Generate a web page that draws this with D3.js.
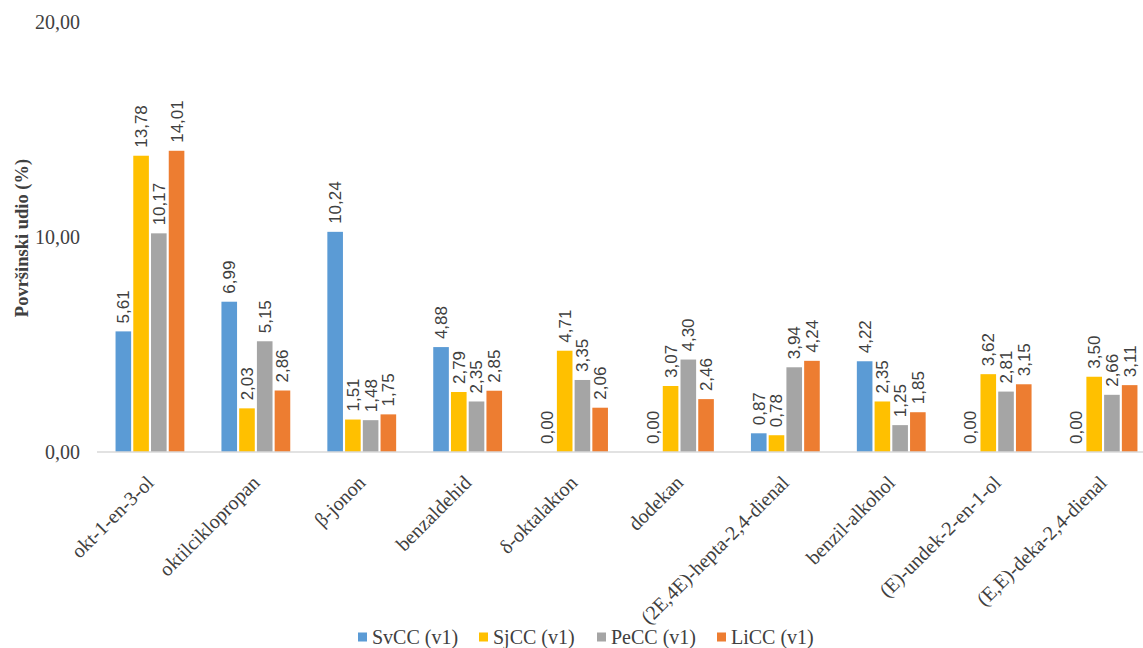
<!DOCTYPE html>
<html>
<head>
<meta charset="utf-8">
<script src="https://cdn.jsdelivr.net/npm/d3@7"></script>
<style>
  body { margin: 0; background: #fff; }
  text { fill: #404040; }
</style>
</head>
<body>
<div id="chart"></div>
<script>
// Data
const categories = ['okt-1-en-3-ol', 'oktilciklopropan', 'β-jonon', 'benzaldehid', 'δ-oktalakton',
  'dodekan', '(2E,4E)-hepta-2,4-dienal', 'benzil-alkohol', '(E)-undek-2-en-1-ol', '(E,E)-deka-2,4-dienal']
const seriesNames = ['SvCC (v1)', 'SjCC (v1)', 'PeCC (v1)', 'LiCC (v1)']
const svcc = [5.61, 6.99, 10.24, 4.88, 0.00, 0.00, 0.87, 4.22, 0.00, 0.00]
const sjcc = [13.78, 2.03, 1.51, 2.79, 4.71, 3.07, 0.78, 2.35, 3.62, 3.50]
const pecc = [10.17, 5.15, 1.48, 2.35, 3.35, 4.30, 3.94, 1.25, 2.81, 2.66]
const licc = [14.01, 2.86, 1.75, 2.85, 2.06, 2.46, 4.24, 1.85, 3.15, 3.11]
const yTicks = [0, 10, 20]
const colors = ['#5B9BD5', '#FFC000', '#A5A5A5', '#ED7D31']

const seriesValues = [svcc, sjcc, pecc, licc]
const rows = categories.map((c, i) => ({
  name: c,
  values: seriesNames.map((s, j) => ({ key: s, value: seriesValues[j][i] }))
}))

// Dimensions
const dimensions = { width: 1143, height: 648, left: 97, right: 1156, top: 22, bottom: 452 }

const svg = d3.select('#chart')
  .append('svg')
  .attr('width', dimensions.width)
  .attr('height', dimensions.height)

// Scales
const x = d3.scaleBand()
  .domain(categories)
  .range([dimensions.left, dimensions.right])
  .paddingInner(0.31)
  .paddingOuter(0.155)

const xInner = d3.scaleBand()
  .domain(seriesNames)
  .range([0, x.bandwidth()])
  .padding(0.12)

const y = d3.scaleLinear()
  .domain([0, 20])
  .range([dimensions.bottom, dimensions.top])

const color = d3.scaleOrdinal().domain(seriesNames).range(colors)
const fmt = v => d3.format('.2f')(v).replace('.', ',')

// Y tick labels
svg.append('g')
  .selectAll('text')
  .data(yTicks)
  .join('text')
  .attr('x', 80)
  .attr('y', d => y(d))
  .attr('dy', '0.35em')
  .attr('text-anchor', 'end')
  .style('font-family', '"Liberation Serif", serif')
  .style('font-size', '20px')
  .text(d => fmt(d))

// Y title
svg.append('text')
  .attr('transform', `translate(22, ${(dimensions.top + dimensions.bottom) / 2 + 1}) rotate(-90)`)
  .attr('text-anchor', 'middle')
  .attr('dy', '0.35em')
  .style('font-family', '"Liberation Serif", serif')
  .style('font-size', '18.5px')
  .style('font-weight', 'bold')
  .text('Površinski udio (%)')

// Bars
const groups = svg.append('g')
  .selectAll('g')
  .data(rows)
  .join('g')
  .attr('transform', d => `translate(${x(d.name)},0)`)

groups.selectAll('rect')
  .data(d => d.values)
  .join('rect')
  .attr('x', d => xInner(d.key))
  .attr('width', xInner.bandwidth())
  .attr('y', d => y(d.value))
  .attr('height', d => y(0) - y(d.value))
  .attr('fill', d => color(d.key))

// Value labels
groups.selectAll('text')
  .data(d => d.values)
  .join('text')
  .attr('transform', d => `translate(${xInner(d.key) + xInner.bandwidth() / 2}, ${y(d.value) - 8}) rotate(-90)`)
  .attr('dy', '0.35em')
  .style('font-family', '"Liberation Sans", sans-serif')
  .style('font-size', '17px')
  .text(d => fmt(d.value))

// X axis line
svg.append('line')
  .attr('x1', dimensions.left)
  .attr('x2', dimensions.width)
  .attr('y1', y(0))
  .attr('y2', y(0))
  .attr('stroke', '#D9D9D9')
  .attr('stroke-width', 1.3)

// Category labels
svg.append('g')
  .selectAll('text')
  .data(categories)
  .join('text')
  .attr('transform', d => `translate(${x(d) + x.bandwidth() / 2}, ${y(0) + 27}) rotate(-45)`)
  .attr('text-anchor', 'end')
  .attr('dy', '0.35em')
  .style('font-family', '"Liberation Serif", serif')
  .style('font-size', '20px')
  .text(d => d)

// Legend
const legend = svg.append('g')
const itemX = [358, 479, 597, 717]
const legendItems = legend.selectAll('g')
  .data(seriesNames)
  .join('g')
  .attr('transform', (d, i) => `translate(${itemX[i]}, 637)`)

legendItems.append('rect')
  .attr('x', 0)
  .attr('y', -4.5)
  .attr('width', 9)
  .attr('height', 9)
  .attr('fill', d => color(d))

legendItems.append('text')
  .attr('x', 14)
  .attr('dy', '0.33em')
  .style('font-family', '"Liberation Serif", serif')
  .style('font-size', '20px')
  .text(d => d)
</script>
</body>
</html>
